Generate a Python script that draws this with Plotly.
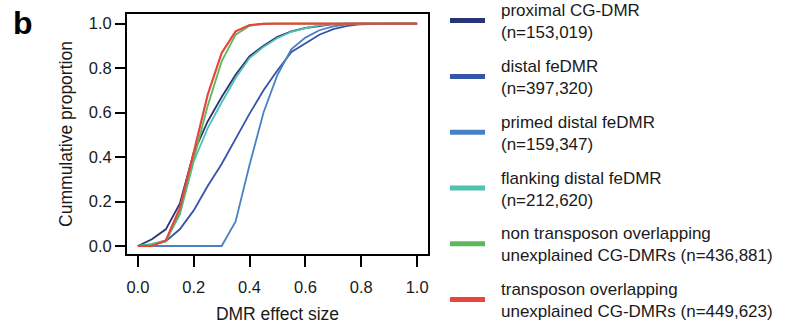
import plotly.graph_objects as go

effect_size = [0.0, 0.05, 0.1, 0.15, 0.2, 0.25, 0.3, 0.35, 0.4, 0.45, 0.5,
               0.55, 0.6, 0.65, 0.7, 0.75, 0.8, 0.85, 0.9, 0.95, 1.0]

proximal_cg = [0.0, 0.03, 0.075, 0.19, 0.42, 0.56, 0.67, 0.77, 0.853, 0.90, 0.94,
               0.965, 0.98, 0.99, 0.997, 1.0, 1.0, 1.0, 1.0, 1.0, 1.0]
distal_fe = [0.0, 0.005, 0.022, 0.075, 0.16, 0.27, 0.369, 0.484, 0.595, 0.70, 0.79,
             0.872, 0.913, 0.95, 0.975, 0.99, 0.997, 1.0, 1.0, 1.0, 1.0]
primed_distal = [0.0, 0.0, 0.0, 0.0, 0.0, 0.0, 0.0, 0.11, 0.365, 0.60, 0.77,
                 0.885, 0.937, 0.97, 0.987, 0.996, 1.0, 1.0, 1.0, 1.0, 1.0]
flanking_distal = [0.0, 0.01, 0.025, 0.14, 0.38, 0.53, 0.645, 0.755, 0.845, 0.895, 0.935,
                   0.963, 0.98, 0.992, 0.998, 1.0, 1.0, 1.0, 1.0, 1.0, 1.0]
non_transposon = [0.0, 0.005, 0.02, 0.15, 0.39, 0.63, 0.83, 0.95, 0.99, 1.0, 1.0,
                  1.0, 1.0, 1.0, 1.0, 1.0, 1.0, 1.0, 1.0, 1.0, 1.0]
transposon = [0.0, 0.0, 0.025, 0.17, 0.42, 0.68, 0.868, 0.965, 0.993, 0.999, 1.0,
              1.0, 1.0, 1.0, 1.0, 1.0, 1.0, 1.0, 1.0, 1.0, 1.0]

series_names = [
    "proximal CG-DMR<br>(n=153,019)",
    "distal feDMR<br>(n=397,320)",
    "primed distal feDMR<br>(n=159,347)",
    "flanking distal feDMR<br>(n=212,620)",
    "non transposon overlapping<br>unexplained CG-DMRs (n=436,881)",
    "transposon overlapping<br>unexplained CG-DMRs (n=449,623)",
]
series_values = [proximal_cg, distal_fe, primed_distal, flanking_distal,
                 non_transposon, transposon]
series_colors = ["#283478", "#3556a8", "#4a80c6", "#4fc2b2", "#5cb85c", "#e9443d"]

x_ticks = [0.0, 0.2, 0.4, 0.6, 0.8, 1.0]
x_tick_labels = ["0.0", "0.2", "0.4", "0.6", "0.8", "1.0"]
y_ticks = [0.0, 0.2, 0.4, 0.6, 0.8, 1.0]
y_tick_labels = ["0.0", "0.2", "0.4", "0.6", "0.8", "1.0"]

FONT = "Liberation Sans, Arial, sans-serif"

fig = go.Figure()
for i, (name, vals, col) in enumerate(zip(series_names, series_values, series_colors)):
    fig.add_trace(go.Scatter(
        x=effect_size, y=vals, mode="lines", name=name,
        line=dict(color=col, width=2.2 if i == 5 else 1.8),
        showlegend=False, hoverinfo="skip",
    ))
# legend proxies (thick, short swatches)
for i, (name, col) in enumerate(zip(series_names, series_colors)):
    fig.add_trace(go.Scatter(
        x=[None], y=[None], mode="lines", name=name,
        line=dict(color=col, width=5, dash="35px,40px"),
        legendgroup=f"g{i}", showlegend=True,
    ))

fig.update_layout(
    width=801, height=329,
    margin=dict(l=127, r=373, t=14, b=75, autoexpand=False),
    paper_bgcolor="white", plot_bgcolor="white",
    font=dict(family=FONT, size=16.5, color="#1a1a1a"),
    showlegend=True,
    legend=dict(
        xref="paper", yref="paper",
        x=(445 - 127) / 301, y=(254 + 8) / 240, xanchor="left", yanchor="top",
        font=dict(family=FONT, size=17, color="#1a1a1a"),
        tracegroupgap=8.6, traceorder="grouped",
        itemwidth=46, bgcolor="rgba(0,0,0,0)",
        maxheight=420,
    ),
    xaxis=dict(
        range=[-0.039, 1.039], tickvals=x_ticks, ticktext=x_tick_labels,
        showgrid=False, zeroline=False,
        showline=True, linecolor="black", linewidth=2, mirror=True,
        ticks="outside", ticklen=11, tickwidth=2, tickcolor="black",
        ticklabelstandoff=6,
        title=dict(text="DMR effect size", font=dict(size=17.5), standoff=13),
    ),
    yaxis=dict(
        range=[-0.036, 1.043], tickvals=y_ticks, ticktext=y_tick_labels,
        showgrid=False, zeroline=False,
        showline=True, linecolor="black", linewidth=2, mirror=True,
        ticks="outside", ticklen=10, tickwidth=2, tickcolor="black",
        ticklabelstandoff=0,
        title=dict(text="Cummulative proportion", font=dict(size=17.5), standoff=12),
    ),
    annotations=[dict(
        text="<b>b</b>", xref="paper", yref="paper",
        x=(11 - 127) / 301, y=(254 - 23) / 240, xanchor="left", yanchor="middle",
        showarrow=False, font=dict(family=FONT, size=32, color="black"),
    )],
)

fig.write_html("out.html", config={"displayModeBar": False, "staticPlot": True},
               post_script="document.body.style.margin='0';document.body.style.overflow='hidden';")
